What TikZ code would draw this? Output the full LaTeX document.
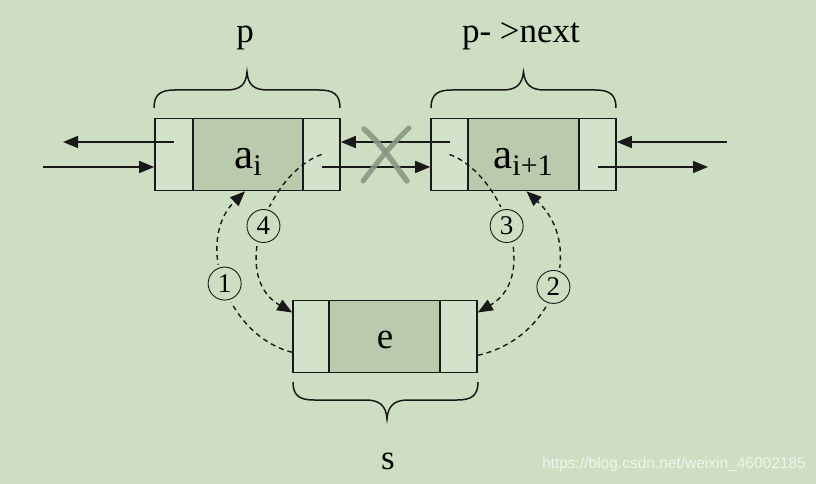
\documentclass[tikz,border=0pt]{standalone}
\usepackage{fontspec}
\setmainfont{Liberation Serif}
\newfontfamily\wmfont{Liberation Sans}
\usetikzlibrary{arrows.meta}
\definecolor{bg}{RGB}{206,222,194}
\definecolor{sidecol}{RGB}{211,226,202}
\definecolor{midcol}{RGB}{187,202,172}
\definecolor{ink}{RGB}{25,25,25}
\definecolor{crossgray}{RGB}{138,150,134}
\definecolor{wm}{RGB}{240,244,236}
\begin{document}
\begin{tikzpicture}[x=1pt,y=-1pt,
  cell/.style={draw=ink,line width=1.6pt,minimum height=72pt,inner sep=0pt,anchor=center},
  side/.style={cell,fill=sidecol},
  mid/.style={cell,fill=midcol,minimum width=110pt},
  link/.style={draw=ink,line width=1.5pt,-{Triangle[length=15pt,width=12pt]}},
  dlink/.style={draw=ink,line width=1.4pt,dash pattern=on 5pt off 4pt,-{Triangle[length=15pt,width=12pt]}},
  num/.style={circle,draw=ink,solid,line width=0.9pt,fill=bg,minimum size=33pt,inner sep=0pt,
    font=\fontsize{27}{27}\selectfont,preaction={draw=bg,line width=7pt}},
  lab/.style={font=\fontsize{35}{35}\selectfont,anchor=base,inner sep=0pt},
  big/.style={font=\fontsize{43}{43}\selectfont,anchor=base,inner sep=0pt},
  bracestyle/.style={draw=ink,line width=1.5pt}]
\fill[bg] (0,0) rectangle (816,484);
\useasboundingbox (0,0) rectangle (816,484);

% node p
\node[side,minimum width=38pt] (pL) at (174,154.5) {};
\node[mid] (pM) at (248,154.5) {};
\node[side,minimum width=37pt] (pR) at (321.5,154.5) {};
% node p->next
\node[side,minimum width=37pt] (qL) at (449.5,154.5) {};
\node[mid,minimum width=111pt] (qM) at (523.5,154.5) {};
\node[side,minimum width=37pt] (qR) at (597.5,154.5) {};
% node s
\node[side,minimum width=36pt] (sL) at (311,336.3) {};
\node[mid,minimum width=111pt] (sM) at (384.5,336.3) {};
\node[side,minimum width=37pt] (sR) at (458.5,336.3) {};

% texts
\node[big] (ai) at (248,168) {a\raisebox{-7pt}{\fontsize{30}{30}\selectfont i}};
\node[big] (ai1) at (523,168) {a\raisebox{-7pt}{\fontsize{30}{30}\selectfont i+1}};
\node[font=\fontsize{37}{37}\selectfont,anchor=base,inner sep=0pt] (e) at (385,348) {e};
\node[lab] (plab) at (245,43) {p};
\node[lab] (qlab) at (521,43) {p- >next};
\node[lab] (slab) at (388,469) {s};

% braces
\draw[bracestyle] (154,108) .. controls (154,94) and (161,90) .. (175,90) -- (226,90)
  .. controls (240,90) and (246,85) .. (247,72) .. controls (248,85) and (254,90) .. (268,90)
  -- (319,90) .. controls (333,90) and (340,94) .. (340,108);
\draw[bracestyle] (431,108) .. controls (431,94) and (438,90) .. (452,90) -- (502,90)
  .. controls (516,90) and (522,85) .. (523.5,72) .. controls (525,85) and (531,90) .. (545,90)
  -- (595,90) .. controls (609,90) and (616,94) .. (616,108);
\draw[bracestyle] (293,382) .. controls (293,396) and (300,400) .. (314,400) -- (366,400)
  .. controls (380,400) and (386,406) .. (387,419) .. controls (388,406) and (394,400) .. (408,400)
  -- (457,400) .. controls (471,400) and (478,396) .. (478,382);

% free ends
\coordinate (outL) at (63,142);
\coordinate (inL) at (43,167);
\coordinate (inR) at (727,142);
\coordinate (outR) at (708,167);

% solid links
\draw[link] (pL.center |- outL) -- (outL);
\draw[link] (inL) -- (inL -| pL.west);
\draw[link] (pR.center |- inL) -- (qL.west |- inL);
\draw[link] (qL.center |- outL) -- (pR.east |- outL);
\draw[link] (inR) -- (inR -| qR.east);
\draw[link] (qR.center |- outR) -- (outR);

% cross
\draw[crossgray,line width=5.5pt,line cap=round,opacity=0.9]
  (364,129) .. controls (384,147) and (394,164) .. (407,181);
\draw[crossgray,line width=5pt,line cap=round,opacity=0.9]
  (409,128) .. controls (390,146) and (376,164) .. (363,181);

% dashed steps
\draw[dlink] ([yshift=-16pt]sL.west) .. controls (225,335) and (195,240) .. ([xshift=-3pt]pM.south)
  node[num,pos=0.5] (n1) {1};
\draw[dlink] ([yshift=-19pt]sR.east) .. controls (556,338) and (585,245) .. ([xshift=3pt]qM.south)
  node[num,pos=0.5] (n2) {2};
\draw[dlink] (qL.center) .. controls (500,172) and (542,275) .. ([yshift=-13pt]sR.north east)
  node[num,pos=0.5] (n3) {3};
\draw[dlink] (pR.center) .. controls (270,172) and (228,275) .. ([yshift=-13pt]sL.north west)
  node[num,pos=0.5] (n4) {4};

% watermark
\node[font=\wmfont\fontsize{15.5}{15.5}\selectfont,text=wm,anchor=base east,inner sep=0pt] (wmk)
  at (806,468) {https://blog.csdn.net/weixin\_46002185};
\end{tikzpicture}
\end{document}
